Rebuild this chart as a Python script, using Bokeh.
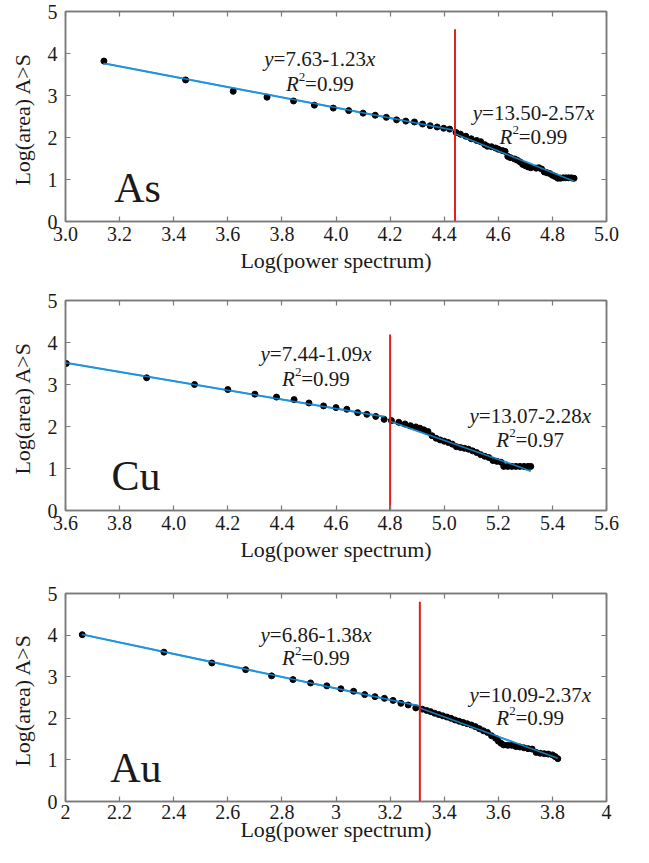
from bokeh.plotting import figure
from bokeh.models import Range1d, FixedTicker, CustomJSTickFormatter, LinearAxis, Label
from bokeh.layouts import column
from bokeh.embed import file_html
from bokeh.resources import INLINE

# ---------------- data ----------------
y_ticks = [0, 1, 2, 3, 4, 5]
y_tick_labels = ["0", "1", "2", "3", "4", "5"]
x_title = "Log(power spectrum)"
y_title = "Log(area)  A>S"

# As
as_xticks = [3.0, 3.2, 3.4, 3.6, 3.8, 4.0, 4.2, 4.4, 4.6, 4.8, 5.0]
as_xlabels = ["3.0", "3.2", "3.4", "3.6", "3.8", "4.0", "4.2", "4.4", "4.6", "4.8", "5.0"]
as_x = [3.142, 3.444, 3.620, 3.745, 3.843, 3.920, 3.990, 4.047, 4.100, 4.145,
        4.186, 4.224, 4.258, 4.290, 4.320, 4.348, 4.374, 4.398, 4.420, 4.444,
        4.460, 4.480, 4.500, 4.520, 4.535, 4.550, 4.560, 4.575, 4.590, 4.600,
        4.615, 4.625, 4.635, 4.645, 4.660, 4.670, 4.680, 4.690, 4.700, 4.710,
        4.720, 4.740, 4.750, 4.760, 4.770, 4.780, 4.790, 4.800, 4.810, 4.820,
        4.830, 4.840, 4.850, 4.860, 4.870, 4.880]
as_y = [3.82, 3.37, 3.10, 2.96, 2.87, 2.77, 2.70, 2.64, 2.58, 2.53,
        2.48, 2.42, 2.39, 2.37, 2.32, 2.28, 2.25, 2.22, 2.20, 2.12,
        2.08, 2.03, 1.97, 1.93, 1.90, 1.83, 1.79, 1.78, 1.75, 1.72,
        1.69, 1.67, 1.55, 1.52, 1.49, 1.46, 1.42, 1.36, 1.33, 1.30,
        1.28, 1.27, 1.28, 1.25, 1.18, 1.16, 1.14, 1.10, 1.07, 1.03,
        1.03, 1.04, 1.04, 1.04, 1.04, 1.03]
as_fit1_x = [3.14, 4.44]
as_fit1_y = [3.768, 2.169]
as_fit2_x = [4.44, 4.88]
as_fit2_y = [2.089, 0.958]
as_break_x = [4.44, 4.44]
as_break_y = [0, 4.58]
as_eq1 = ("7.63-1.23", "0.99")
as_eq2 = ("13.50-2.57", "0.99")

# Cu
cu_xticks = [3.6, 3.8, 4.0, 4.2, 4.4, 4.6, 4.8, 5.0, 5.2, 5.4, 5.6]
cu_xlabels = ["3.6", "3.8", "4.0", "4.2", "4.4", "4.6", "4.8", "5.0", "5.2", "5.4", "5.6"]
cu_x = [3.603, 3.900, 4.077, 4.200, 4.300, 4.380, 4.445, 4.500, 4.554, 4.600,
        4.640, 4.680, 4.714, 4.747, 4.778, 4.805, 4.832, 4.855, 4.875, 4.895,
        4.910, 4.925, 4.940, 4.955, 4.970, 4.985, 5.000, 5.015, 5.030, 5.045,
        5.060, 5.075, 5.090, 5.105, 5.120, 5.135, 5.150, 5.165, 5.180, 5.195,
        5.210, 5.220, 5.235, 5.250, 5.265, 5.280, 5.295, 5.310, 5.320]
cu_y = [3.50, 3.16, 3.00, 2.88, 2.77, 2.70, 2.64, 2.56, 2.49, 2.45,
        2.41, 2.33, 2.29, 2.24, 2.17, 2.14, 2.10, 2.06, 2.02, 1.99,
        1.96, 1.92, 1.88, 1.78, 1.72, 1.68, 1.65, 1.62, 1.58, 1.52,
        1.50, 1.48, 1.46, 1.42, 1.38, 1.33, 1.29, 1.26, 1.19, 1.17,
        1.15, 1.05, 1.05, 1.05, 1.05, 1.05, 1.05, 1.05, 1.05]
cu_fit1_x = [3.6, 4.78]
cu_fit1_y = [3.516, 2.230]
cu_fit2_x = [4.80, 5.32]
cu_fit2_y = [2.126, 0.940]
cu_break_x = [4.80, 4.80]
cu_break_y = [0, 4.19]
cu_eq1 = ("7.44-1.09", "0.99")
cu_eq2 = ("13.07-2.28", "0.97")

# Au
au_xticks = [2.0, 2.2, 2.4, 2.6, 2.8, 3.0, 3.2, 3.4, 3.6, 3.8, 4.0]
au_xlabels = ["2", "2.2", "2.4", "2.6", "2.8", "3", "3.2", "3.4", "3.6", "3.8", "4"]
au_x = [2.062, 2.364, 2.541, 2.666, 2.762, 2.841, 2.906, 2.966, 3.018, 3.065,
        3.106, 3.144, 3.179, 3.211, 3.240, 3.267, 3.295, 3.319, 3.335, 3.350,
        3.365, 3.380, 3.395, 3.410, 3.425, 3.440, 3.455, 3.470, 3.485, 3.500,
        3.515, 3.530, 3.545, 3.560, 3.575, 3.590, 3.600, 3.610, 3.620, 3.635,
        3.650, 3.665, 3.680, 3.695, 3.710, 3.725, 3.740, 3.755, 3.770, 3.785,
        3.800, 3.810, 3.820]
au_y = [4.01, 3.59, 3.33, 3.17, 3.02, 2.93, 2.85, 2.78, 2.71, 2.65,
        2.57, 2.52, 2.48, 2.43, 2.36, 2.32, 2.25, 2.22, 2.19, 2.16,
        2.12, 2.09, 2.06, 2.03, 2.00, 1.96, 1.93, 1.90, 1.87, 1.84,
        1.80, 1.75, 1.70, 1.66, 1.58, 1.52, 1.45, 1.40, 1.36, 1.35,
        1.35, 1.32, 1.31, 1.29, 1.27, 1.26, 1.18, 1.16, 1.15, 1.14,
        1.12, 1.08, 1.03]
au_fit1_x = [2.06, 3.31]
au_fit1_y = [4.017, 2.292]
au_fit2_x = [3.31, 3.82]
au_fit2_y = [2.245, 1.037]
au_break_x = [3.31, 3.31]
au_break_y = [0, 4.80]
au_eq1 = ("6.86-1.38", "0.99")
au_eq2 = ("10.09-2.37", "0.99")

# ---------------- styling ----------------
FONT = "Liberation Serif"
AXIS_C = "#7a7a7a"
TEXT_C = "#1a1a1a"
BLUE = "#2294dd"
RED = "#e0201e"

CW = {"0": .5, "1": .5, "2": .5, "3": .5, "4": .5, "5": .5, "6": .5, "7": .5,
      "8": .5, "9": .5, ".": .25, "-": .333, "=": .564, "y": .444, "x": .444, "R": .611}


def rich(p, x, y, pieces, size):
    """pieces: list of (text, italic, superscript); centred on (x, y)."""
    widths = []
    for t, it, sup in pieces:
        fs = size * 0.6 if sup else size
        widths.append(sum(CW.get(c, .5) for c in t) * fs)
    off = -sum(widths) / 2
    for (t, it, sup), w in zip(pieces, widths):
        fs = size * 0.6 if sup else size
        p.add_layout(Label(x=x, y=y, x_offset=off, y_offset=(size * 0.33 if sup else 0),
                           text=t, text_font=FONT, text_font_size=f"{fs:.0f}px",
                           text_font_style="italic" if it else "normal",
                           text_color=TEXT_C, text_align="left", text_baseline="middle"))
        off += w


def label_formatter(tvals, tlabels):
    return CustomJSTickFormatter(args=dict(tvals=tvals, tlabels=tlabels), code="""
        for (let i = 0; i < tvals.length; i++) {
            if (Math.abs(tvals[i] - tick) < 1e-6) { return tlabels[i]; }
        }
        return '';
    """)


def panel(xr, xticks, xlabels, xs, ys, f1x, f1y, f2x, f2y, bx, by, eq1, eq2,
          eq1_pos, eq2_pos, name, name_pos, height, bl, br, bt, bb, xstand, xlstand):
    p = figure(width=620, height=height, x_range=Range1d(*xr), y_range=Range1d(0, 5),
               output_backend="svg", toolbar_location=None,
               min_border_left=bl, min_border_right=br, min_border_top=bt, min_border_bottom=bb)
    p.grid.visible = False
    p.outline_line_color = AXIS_C
    p.outline_line_width = 1.5
    p.background_fill_color = "white"

    xa = p.xaxis[0]
    xa.ticker = FixedTicker(ticks=xticks)
    xa.formatter = label_formatter(xticks, xlabels)
    ya = p.yaxis[0]
    ya.ticker = FixedTicker(ticks=y_ticks)
    ya.formatter = label_formatter(y_ticks, y_tick_labels)
    xa.axis_label = x_title
    ya.axis_label = y_title

    top = LinearAxis(ticker=FixedTicker(ticks=xticks),
                     formatter=CustomJSTickFormatter(code="return '';"))
    right = LinearAxis(ticker=FixedTicker(ticks=y_ticks),
                       formatter=CustomJSTickFormatter(code="return '';"))
    p.add_layout(top, "above")
    p.add_layout(right, "right")

    for ax in (xa, ya, top, right):
        ax.axis_line_color = AXIS_C
        ax.axis_line_width = 1.5
        ax.major_tick_line_color = AXIS_C
        ax.major_tick_line_width = 1.2
        ax.major_tick_in = 5
        ax.major_tick_out = 0
        ax.minor_tick_line_color = None
        ax.major_label_text_font = FONT
        ax.major_label_text_font_size = "20px"
        ax.major_label_text_color = TEXT_C
        ax.axis_label_text_font = FONT
        ax.axis_label_text_font_size = "22px"
        ax.axis_label_text_font_style = "normal"
        ax.axis_label_text_color = TEXT_C
    top.major_label_standoff = 0
    right.major_label_standoff = 0
    xa.major_label_standoff = xstand
    xa.axis_label_standoff = xlstand
    ya.major_label_standoff = 8
    ya.axis_label_standoff = 10

    p.line(f1x, f1y, line_color=BLUE, line_width=2)
    p.line(f2x, f2y, line_color=BLUE, line_width=2)
    p.scatter(xs, ys, size=6, fill_color="black", line_color="black")
    p.line(f1x, f1y, line_color=BLUE, line_width=1.6, line_alpha=0.8)
    p.line(f2x, f2y, line_color=BLUE, line_width=1.6, line_alpha=0.8)
    p.line(bx, by, line_color=RED, line_width=2)

    size = 21
    rich(p, eq1_pos[0], eq1_pos[1], [("y", True, False), ("=" + eq1[0], False, False), ("x", True, False)], size)
    rich(p, eq1_pos[0], eq1_pos[2], [("R", True, False), ("2", False, True), ("=" + eq1[1], False, False)], size)
    rich(p, eq2_pos[0], eq2_pos[1], [("y", True, False), ("=" + eq2[0], False, False), ("x", True, False)], size)
    rich(p, eq2_pos[0], eq2_pos[2], [("R", True, False), ("2", False, True), ("=" + eq2[1], False, False)], size)

    p.add_layout(Label(x=name_pos[0], y=name_pos[1], text=name, text_font=FONT,
                       text_font_size="42px", text_color=TEXT_C,
                       text_align="left", text_baseline="middle"))
    return p


p1 = panel((3.0, 5.0), as_xticks, as_xlabels, as_x, as_y, as_fit1_x, as_fit1_y,
           as_fit2_x, as_fit2_y, as_break_x, as_break_y, as_eq1, as_eq2,
           (3.94, 3.87, 3.28), (4.73, 2.58, 2.02), "As", (3.18, 0.79),
           289, 62, 14, 11, 68, 5, 4)
p2 = panel((3.6, 5.6), cu_xticks, cu_xlabels, cu_x, cu_y, cu_fit1_x, cu_fit1_y,
           cu_fit2_x, cu_fit2_y, cu_break_x, cu_break_y, cu_eq1, cu_eq2,
           (4.526, 3.72, 3.14), (5.318, 2.25, 1.68), "Cu", (3.77, 0.83),
           293, 65, 11, 11, 72, 5, 4)
p3 = panel((2.0, 4.0), au_xticks, au_xlabels, au_x, au_y, au_fit1_x, au_fit1_y,
           au_fit2_x, au_fit2_y, au_break_x, au_break_y, au_eq1, au_eq2,
           (2.926, 4.00, 3.45), (3.718, 2.56, 2.00), "Au", (2.165, 0.81),
           265, 65, 11, 11, 46, 3, -5)

layout = column(p1, p2, p3, spacing=0)
open("out.html", "w").write(file_html(layout, INLINE))
